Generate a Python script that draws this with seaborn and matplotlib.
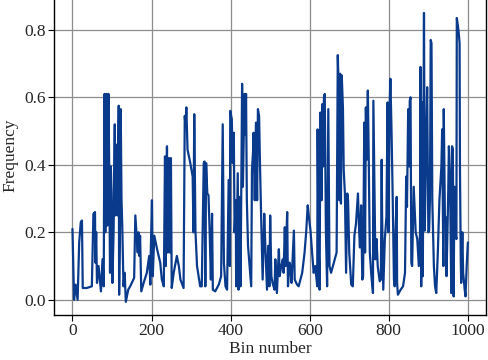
import matplotlib
matplotlib.use("Agg")
import matplotlib.pyplot as plt
import seaborn as sns
import pandas as pd

# Values (bin number, frequency)
bin_number = [
    0, 4, 8, 13, 17, 21, 24, 26, 36, 49, 53, 57, 58, 60, 62, 66, 72, 76, 79, 81,
    83, 86, 88, 91, 93, 95, 97, 99, 101, 104, 107, 108, 110, 112, 114, 117, 118, 120, 122, 124,
    126, 129, 132, 135, 141,
    146, 156, 159, 165, 167, 169, 171, 174, 180, 188, 194, 197, 198, 201, 203, 207, 214, 222, 226, 231,
    234, 236, 239, 241, 244, 247, 249, 251, 256, 264, 269, 273, 281, 284, 286, 288, 291, 298, 304, 306,
    308, 311, 315, 323,
    327, 332, 334, 336, 338, 341, 344, 347, 350, 353, 355, 361, 370, 376, 380, 383, 387, 391, 395, 398,
    399, 403, 405, 408, 410, 413, 414, 418, 420, 423, 425, 429, 431, 435, 437, 439, 441, 444, 448, 452,
    454, 457, 458, 461, 464, 467, 469, 472, 474, 477, 481, 485, 488, 492, 495, 498,
    500, 503, 506, 511, 513, 517, 522, 524, 528, 532, 534, 537, 539, 543, 545, 549, 551, 554, 557, 560,
    562, 568, 572, 581, 587, 591, 595, 598, 602, 606, 610, 614, 619, 620, 622, 625, 627, 630, 632, 634,
    636, 638, 641, 644, 647, 650, 654, 661, 668, 671, 674, 675, 677, 679, 681, 684,
    686, 689, 692, 695, 697, 700, 705, 709, 713, 717, 722, 725, 727, 730, 733, 735, 738, 740, 742, 744,
    747, 749, 752, 756, 760, 761, 764, 766, 769, 772, 777, 780, 782, 783, 786, 790, 794, 797, 799, 802,
    804, 807, 810, 813, 815, 817, 820, 821, 823, 830, 836, 841, 844, 846, 849, 852, 853, 855,
    857, 859, 863, 868, 872, 876, 879, 880, 882, 884, 886, 889, 891, 894, 897, 900, 902, 904, 906, 908,
    910, 914, 917, 920, 924, 928, 933, 935, 938, 939, 942, 944, 946, 950, 952, 955, 958, 960, 962, 964,
    966, 968, 971, 972, 975, 977, 979, 980, 982, 983, 986, 988, 992, 994, 997, 1000,
]
frequency = [
    0.21, 0.0, 0.045, 0.0, 0.17, 0.23, 0.235, 0.035, 0.035, 0.04, 0.255, 0.26, 0.11, 0.2, 0.05, 0.1, 0.025, 0.12, 0.04, 0.61,
    0.2, 0.61, 0.22, 0.61, 0.38, 0.08, 0.395, 0.315, 0.05, 0.2, 0.52, 0.25, 0.46, 0.375, 0.25, 0.575, 0.015, 0.2, 0.565, 0.3,
    0.215, 0.04, 0.08, -0.006, 0.03,
    0.04, 0.065, 0.25, 0.14, 0.2, 0.13, 0.19, 0.025, 0.05, 0.08, 0.13, 0.045, 0.14, 0.295, 0.07, 0.19, 0.15, 0.11, 0.06, 0.04,
    0.425, 0.1, 0.455, 0.14, 0.42, 0.14, 0.42, 0.035, 0.08, 0.13, 0.1, 0.06, 0.035, 0.545, 0.515, 0.57, 0.445, 0.405, 0.365, 0.2,
    0.55, 0.205, 0.1, 0.04,
    0.04, 0.405, 0.41, 0.04, 0.405, 0.315, 0.31, 0.2, 0.06, 0.255, 0.03, 0.025, 0.045, 0.07, 0.52, 0.11, 0.04, 0.03, 0.355, 0.1,
    0.56, 0.535, 0.405, 0.495, 0.2, 0.295, 0.04, 0.375, 0.03, 0.305, 0.04, 0.64, 0.335, 0.61, 0.49, 0.61, 0.295, 0.16, 0.1, 0.04,
    0.385, 0.445, 0.495, 0.295, 0.525, 0.295, 0.565, 0.545, 0.415, 0.255, 0.06, 0.255, 0.15, 0.03, 0.16, 0.04,
    0.25, 0.07, 0.05, 0.03, 0.12, 0.02, 0.15, 0.07, 0.1, 0.12, 0.08, 0.215, 0.1, 0.26, 0.04, 0.11, 0.1, 0.05, 0.13, 0.205,
    0.06, 0.045, 0.04, 0.08, 0.14, 0.2, 0.28, 0.245, 0.205, 0.14, 0.08, 0.1, 0.04, 0.505, 0.2, 0.03, 0.555, 0.295, 0.58, 0.395,
    0.6, 0.61, 0.2, 0.04, 0.565, 0.1, 0.08, 0.11, 0.14, 0.725, 0.59, 0.295, 0.67, 0.285, 0.665, 0.57,
    0.385, 0.315, 0.08, 0.315, 0.295, 0.14, 0.045, 0.04, 0.19, 0.225, 0.315, 0.205, 0.155, 0.28, 0.06, 0.07, 0.525, 0.14, 0.57, 0.415,
    0.62, 0.445, 0.14, 0.07, 0.02, 0.59, 0.295, 0.12, 0.18, 0.1, 0.055, 0.06, 0.415, 0.255, 0.03, 0.18, 0.245, 0.585, 0.2, 0.565,
    0.655, 0.495, 0.295, 0.06, 0.04, 0.2, 0.305, 0.05, 0.015, 0.03, 0.04, 0.08, 0.365, 0.275, 0.565, 0.395, 0.59, 0.6,
    0.11, 0.1, 0.335, 0.2, 0.18, 0.1, 0.2, 0.69, 0.04, 0.585, 0.07, 0.85, 0.205, 0.435, 0.63, 0.2, 0.205, 0.295, 0.77, 0.76,
    0.295, 0.1, 0.04, 0.02, 0.14, 0.295, 0.395, 0.505, 0.1, 0.565, 0.235, 0.245, 0.07, 0.295, 0.455, 0.345, 0.02, 0.455, 0.445, 0.01,
    0.335, 0.2, 0.18, 0.835, 0.81, 0.79, 0.76, 0.385, 0.12, 0.05, 0.2, 0.08, 0.03, 0.01, 0.1, 0.17,
]

df = pd.DataFrame({"Bin number": bin_number, "Frequency": frequency})

sns.set_style("whitegrid", {"grid.color": "#8c8c8c", "axes.edgecolor": "black"})
plt.rcParams["font.family"] = ["Liberation Serif", "DejaVu Serif"]
plt.rcParams["font.size"] = 12.5

fig = plt.figure(figsize=(4.89, 3.6), dpi=100)
ax = fig.add_axes([0.111, 0.125, 0.883, 0.885])

sns.lineplot(data=df, x="Bin number", y="Frequency", color="#0a3a8c", linewidth=1.6,
             estimator=None, ax=ax)

ax.set_xlim(-46, 1046)
ax.set_ylim(-0.045, 0.899)
ax.set_xticks([0, 200, 400, 600, 800, 1000])
ax.set_yticks([0.0, 0.2, 0.4, 0.6, 0.8])
ax.set_yticklabels(["0.0", "0.2", "0.4", "0.6", "0.8"])
ax.grid(True, linewidth=0.9)
ax.tick_params(direction="out", length=4, width=0.8, color="black", labelsize=12.5, pad=2)
ax.xaxis.set_ticks_position("bottom")
ax.yaxis.set_ticks_position("left")
for s in ax.spines.values():
    s.set_linewidth(1.0)
    s.set_color("black")
ax.set_xlabel("Bin number", fontsize=12.5, labelpad=1)
ax.set_ylabel("Frequency", fontsize=12.5, labelpad=4)

fig.savefig("out.png", dpi=100)
